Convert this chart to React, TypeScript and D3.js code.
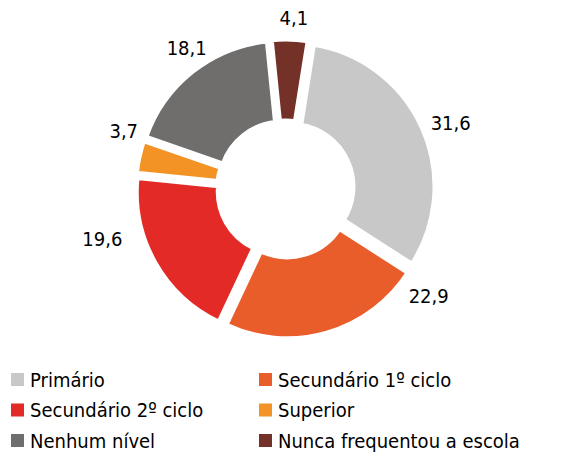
import React from 'react'
import * as d3 from 'd3'

const categories = ['Primário', 'Secundário 1º ciclo', 'Secundário 2º ciclo', 'Superior', 'Nenhum nível', 'Nunca frequentou a escola']
const values = [31.6, 22.9, 19.6, 3.7, 18.1, 4.1]
const valueLabels = ['31,6', '22,9', '19,6', '3,7', '18,1', '4,1']
const colors = ['#C8C8C8', '#E95D2B', '#E42A27', '#F39325', '#6F6E6D', '#733128']

// where each value label sits: fraction along the slice, distance from centre
const labelFrac = [0.52, 0.05, 0.7, 1.06, 0.55, 0.58]
const labelDist = [178, 179, 190, 172, 172, 171]

const width = 579
const height = 454
const cx = 285.5
const cy = 189
const outerR = 144
const innerR = 62
const explode = 6
const font = '"DejaVu Sans Condensed", "DejaVu Sans", sans-serif'

export default function App() {
  const pie = d3.pie<number>()
    .sort(null)
    .value(d => d)
    .startAngle((9 * Math.PI) / 180)
    .endAngle((9 * Math.PI) / 180 + 2 * Math.PI)
  const arcs = pie(values)
  const arc = d3.arc<d3.PieArcDatum<number>>().innerRadius(innerR).outerRadius(outerR)

  return (
    <svg width={width} height={height} style={{ position: 'absolute', left: 0, top: 0 }}>
      <rect width={width} height={height} fill="#fff" />
      <g transform={`translate(${cx},${cy})`}>
        {arcs.map((a, i) => {
          const mid = (a.startAngle + a.endAngle) / 2
          const dx = Math.sin(mid) * explode
          const dy = -Math.cos(mid) * explode
          return (
            <path key={i} d={arc(a) || ''} transform={`translate(${dx},${dy})`}
              fill={colors[i]} stroke="#fff" strokeWidth={5} strokeLinejoin="miter" />
          )
        })}
        {arcs.map((a, i) => {
          const ang = a.startAngle + labelFrac[i] * (a.endAngle - a.startAngle)
          const x = Math.sin(ang) * labelDist[i]
          const y = -Math.cos(ang) * labelDist[i]
          return (
            <text key={i} x={x} y={y} textAnchor="middle" dominantBaseline="central"
              fontFamily={font} fontSize={20} fill="#000">{valueLabels[i]}</text>
          )
        })}
      </g>
      <g>
        {categories.map((c, i) => {
          const col = i % 2
          const row = Math.floor(i / 2)
          const x = col === 0 ? 11 : 259
          const y = 373 + row * 30.5
          return (
            <g key={c} transform={`translate(${x},${y})`}>
              <rect width={13} height={13} fill={colors[i]} />
              <text x={19} y={13.5} fontFamily={font} fontSize={20} fill="#000">{c}</text>
            </g>
          )
        })}
      </g>
    </svg>
  )
}
